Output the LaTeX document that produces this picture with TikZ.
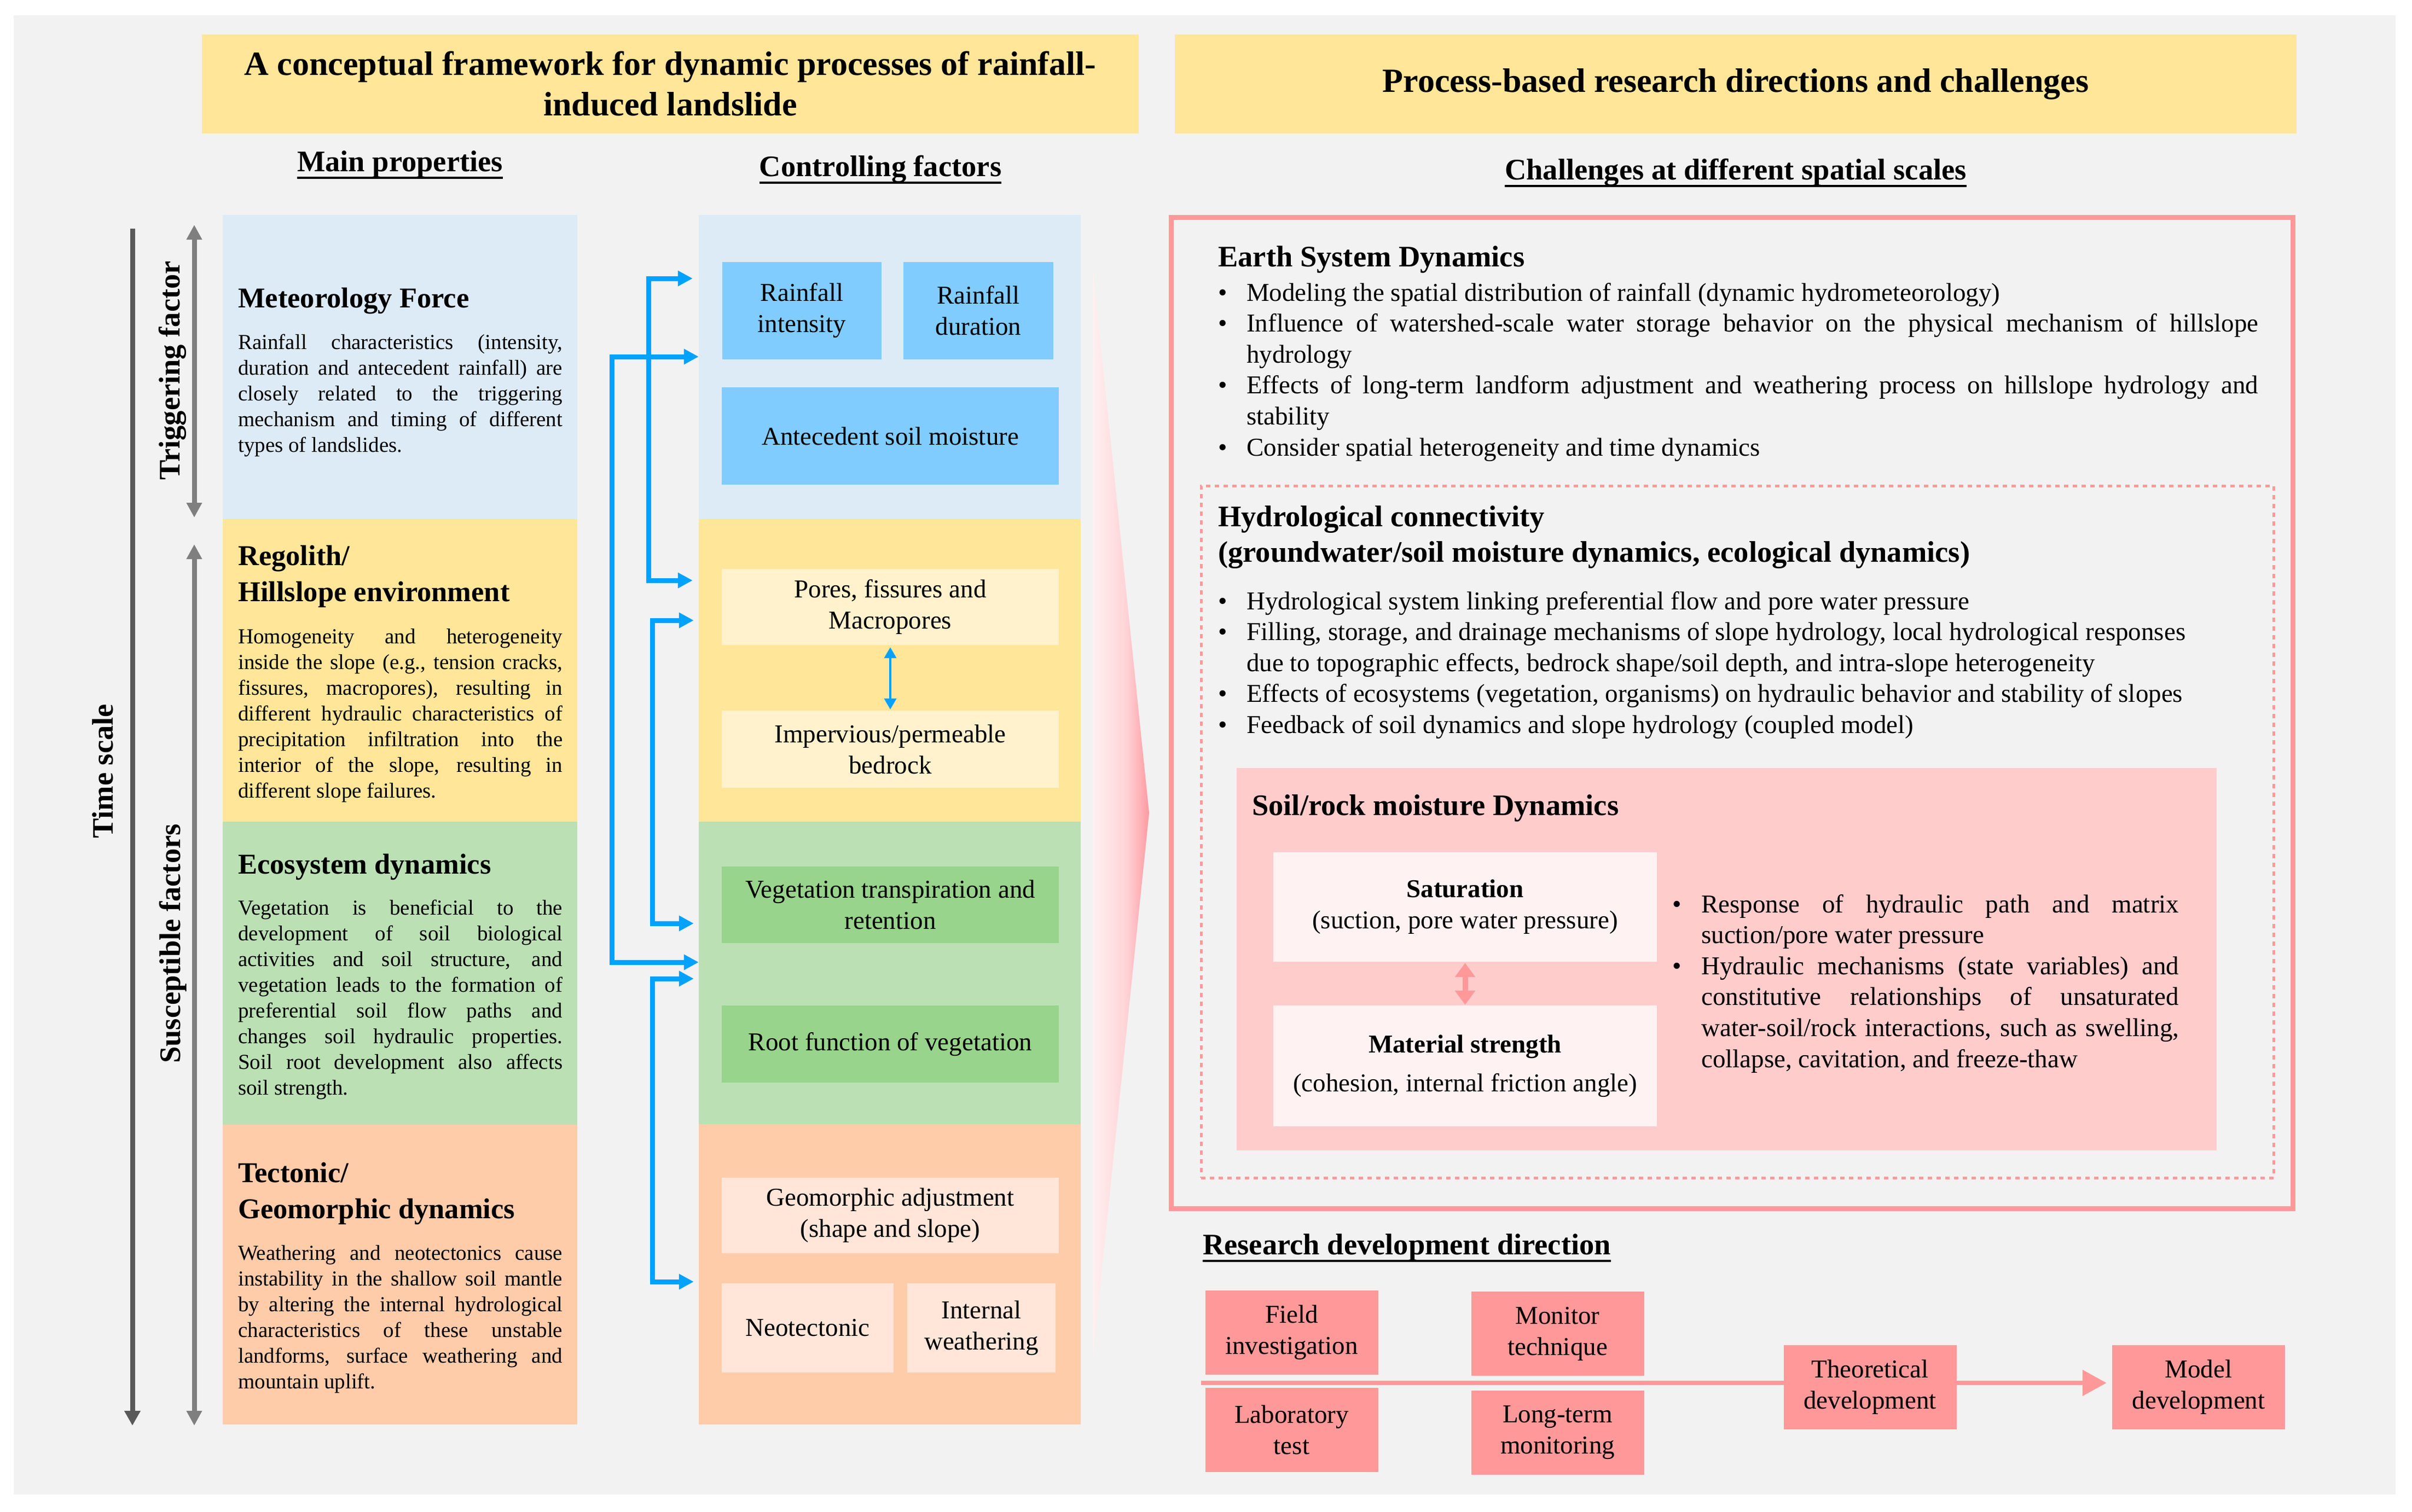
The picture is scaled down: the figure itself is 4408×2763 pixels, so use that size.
\documentclass[tikz,border=0pt]{standalone}
\usepackage{fontspec}
\setmainfont{Liberation Serif}
\usetikzlibrary{arrows.meta}
\definecolor{bgray}{HTML}{F2F2F2}
\definecolor{ttl}{HTML}{FFE699}
\definecolor{lblue}{HTML}{DDEBF7}
\definecolor{mblue}{HTML}{80CCFF}
\definecolor{lyel}{HTML}{FFE699}
\definecolor{pyel}{HTML}{FFF2CC}
\definecolor{lgreen}{HTML}{BBE0B4}
\definecolor{mgreen}{HTML}{98D48B}
\definecolor{lorange}{HTML}{FFCCAA}
\definecolor{porange}{HTML}{FFE6D8}
\definecolor{pinkl}{HTML}{FF9999}
\definecolor{soilc}{HTML}{FFCCCC}
\definecolor{satc}{HTML}{FFF2F2}
\definecolor{arrblue}{HTML}{00A2FF}
\definecolor{tsgray}{HTML}{595959}
\definecolor{trgray}{HTML}{7F7F7F}
\definecolor{funL}{HTML}{FFF0F1}
\definecolor{funM}{HTML}{FFD3D6}
\definecolor{funR}{HTML}{FF9AA0}
\pgfdeclarehorizontalshading{funnelsh}{100bp}{color(0bp)=(funL); color(25bp)=(funL); color(55bp)=(funM); color(75bp)=(funR); color(100bp)=(funR)}
\newcommand{\fTitle}{\fontsize{62}{74}\selectfont\bfseries}
\newcommand{\fHead}{\fontsize{54.5}{65}\selectfont\bfseries}
\newcommand{\fLHead}{\fontsize{52.5}{66}\selectfont\bfseries}
\newcommand{\fLBody}{\fontsize{39}{47}\selectfont}
\newcommand{\fBox}{\fontsize{47}{57}\selectfont}
\newcommand{\fBul}{\fontsize{47}{56.6}\selectfont}
\newcommand{\bfirst}[1]{\hangindent=#1\hangafter=1 \makebox[#1][l]{\textbullet}\ignorespaces}
\newcommand{\bitem}[1]{\par\hangindent=#1\hangafter=1 \noindent\makebox[#1][l]{\textbullet}\ignorespaces}
\tikzset{
  panel/.style={rectangle, inner sep=0pt, draw=none},
  ibox/.style={rectangle, inner sep=0pt, align=center, font=\fBox},
  lhead/.style={anchor=base west, inner sep=0pt, text width=600pt, align=justify, font=\fLHead},
  lbody/.style={anchor=base west, inner sep=0pt, text width=593pt, align=justify, font=\fLBody},
  uhead/.style={inner sep=0pt, font=\fHead},
  sidelab/.style={rotate=90, anchor=base, inner sep=0pt, font=\fHead},
  barrow/.style={draw=arrblue, line width=9pt, line join=miter, arrows={Triangle[length=27pt,width=27pt]-Triangle[length=27pt,width=27pt]}},
  tsarrow/.style={draw=tsgray, line width=9pt, arrows={-Triangle[length=27pt,width=28pt]}},
  trarrow/.style={draw=trgray, line width=9pt, arrows={Triangle[length=27pt,width=27pt]-Triangle[length=27pt,width=27pt]}},
  uline/.style={line width=4pt, draw=black},
  rbox/.style={rectangle, inner sep=0pt, fill=pinkl, align=center, font=\fBox, minimum width=316pt, minimum height=154pt}
}
\begin{document}
\begin{tikzpicture}[x=1pt,y=-1pt]
\useasboundingbox (0,0) rectangle (4408,2763);
\fill[white] (0,0) rectangle (4408,2763);
\fill[bgray] (25,28) rectangle (4378,2732);

% titles
\node[panel, fill=ttl, minimum width=1712pt, minimum height=181pt, align=center, font=\fTitle] (t1) at (1225,153.5) {A conceptual framework for dynamic processes of rainfall-\\induced landslide};
\node[panel, fill=ttl, minimum width=2050pt, minimum height=181pt, align=center, font=\fTitle] (t2) at (3172,153.5) {Process-based research directions and challenges};

% column headings
\node[uhead, anchor=base] (mp) at (731,313) {Main properties};
\draw[uline] ([yshift=-12pt]mp.base west) -- ([yshift=-12pt]mp.base east);
\node[uhead, anchor=base] (cf) at (1609,322) {Controlling factors};
\draw[uline] ([yshift=-12pt]cf.base west) -- ([yshift=-12pt]cf.base east);
\node[uhead, anchor=base] (cs) at (3172,328) {Challenges at different spatial scales};
\draw[uline] ([yshift=-12pt]cs.base west) -- ([yshift=-12pt]cs.base east);

% left panels
\node[panel, fill=lblue, minimum width=648pt, minimum height=556pt] (L1) at (731,671) {};
\node[panel, fill=lyel, minimum width=648pt, minimum height=553pt] (L2) at (731,1225.5) {};
\node[panel, fill=lgreen, minimum width=648pt, minimum height=554pt] (L3) at (731,1779) {};
\node[panel, fill=lorange, minimum width=648pt, minimum height=548pt] (L4) at (731,2330) {};

% middle panels
\node[panel, fill=lblue, minimum width=698pt, minimum height=556pt] (M1) at (1626,671) {};
\node[panel, fill=lyel, minimum width=698pt, minimum height=553pt] (M2) at (1626,1225.5) {};
\node[panel, fill=lgreen, minimum width=698pt, minimum height=553pt] (M3) at (1626,1778.5) {};
\node[panel, fill=lorange, minimum width=698pt, minimum height=549pt] (M4) at (1626,2329.5) {};

% left texts
\node[lhead] (h1) at (435,562) {\fLHead Meteorology Force\par};
\node[lbody] (b1) at (435,638) {\fLBody Rainfall characteristics (intensity,\linebreak duration and antecedent rainfall) are\linebreak closely related to the triggering\linebreak mechanism and timing of different\linebreak types of landslides.\par};
\node[lhead] (h2) at (435,1033) {\fLHead Regolith/\par Hillslope environment\par};
\node[lbody] (b2) at (435,1176) {\fLBody Homogeneity and heterogeneity\linebreak inside the slope (e.g., tension cracks,\linebreak fissures, macropores), resulting in\linebreak different hydraulic characteristics of\linebreak precipitation infiltration into the\linebreak interior of the slope, resulting in\linebreak different slope failures.\par};
\node[lhead] (h3) at (435,1597) {\fLHead Ecosystem dynamics\par};
\node[lbody] (b3) at (435,1672) {\fLBody Vegetation is beneficial to the\linebreak development of soil biological\linebreak activities and soil structure, and\linebreak vegetation leads to the formation of\linebreak preferential soil flow paths and\linebreak changes soil hydraulic properties.\linebreak Soil root development also affects\linebreak soil strength.\par};
\node[lhead] (h4) at (435,2161) {\fLHead Tectonic/\par Geomorphic dynamics\par};
\node[lbody] (b4) at (435,2303) {\fLBody Weathering and neotectonics cause\linebreak instability in the shallow soil mantle\linebreak by altering the internal hydrological\linebreak characteristics of these unstable\linebreak landforms, surface weathering and\linebreak mountain uplift.\par};

% side arrows and labels
\coordinate (ts1) at (242,418);
\coordinate (ts2) at (242,2606);
\draw[tsarrow] (ts1) -- (ts2);
\coordinate (tr1) at (355,411);
\coordinate (tr2) at (355,946);
\draw[trarrow] (tr1) -- (tr2);
\coordinate (su1) at (355,995);
\coordinate (su2) at (355,2606);
\draw[trarrow] (su1) -- (su2);
\node[sidelab] (tsl) at (206,1410) {Time scale};
\node[sidelab] (trl) at (328,677) {Triggering factor};
\node[sidelab] (sul) at (329,1725) {Susceptible factors};

% middle inner boxes
\node[ibox, fill=mblue, minimum width=291pt, minimum height=178pt] (ri) at (1465.5,568) {Rainfall\\intensity};
\node[ibox, fill=mblue, minimum width=274pt, minimum height=178pt] (rd) at (1788,568) {Rainfall\\duration};
\node[ibox, fill=mblue, minimum width=616pt, minimum height=178pt] (asm) at (1627,797) {Antecedent soil moisture};
\node[ibox, fill=pyel, minimum width=616pt, minimum height=139pt] (pores) at (1627,1109.5) {Pores, fissures and\\Macropores};
\node[ibox, fill=pyel, minimum width=616pt, minimum height=141pt] (imp) at (1627,1369.5) {Impervious/permeable\\bedrock};
\node[ibox, fill=mgreen, minimum width=616pt, minimum height=140pt] (veg) at (1627,1654) {Vegetation transpiration and\\retention};
\node[ibox, fill=mgreen, minimum width=616pt, minimum height=141pt] (root) at (1627,1908.5) {Root function of vegetation};
\node[ibox, fill=porange, minimum width=616pt, minimum height=138pt] (geo) at (1627,2222) {Geomorphic adjustment\\(shape and slope)};
\node[ibox, fill=porange, minimum width=314pt, minimum height=163pt] (neo) at (1476,2427.5) {Neotectonic};
\node[ibox, fill=porange, minimum width=271pt, minimum height=163pt] (iw) at (1793.5,2427.5) {Internal\\weathering};
\draw[draw=arrblue, line width=4pt, arrows={Triangle[length=20pt,width=22pt]-Triangle[length=20pt,width=22pt]}, shorten <=4pt, shorten >=2pt] (pores.south) -- (imp.north);

% blue connectors
\coordinate (A1) at (1185,509);
\coordinate (A2) at (1185,1061);
\coordinate (B1) at (1118,652);
\coordinate (B2) at (1118,1759);
\coordinate (C1) at (1192,1134);
\coordinate (C2) at (1192,1688);
\coordinate (D1) at (1192,1789);
\coordinate (D2) at (1192,2343);
\draw[barrow, shorten <=11pt, shorten >=11pt] (A1 -| M1.west) -- (A1) -- (A2) -- (A2 -| M2.west);
\draw[barrow, shorten <=9pt, shorten >=9pt] (C1 -| M2.west) -- (C1) -- (C2) -- (C2 -| M3.west);
\draw[barrow, shorten <=9pt, shorten >=9pt] (D1 -| M3.west) -- (D1) -- (D2) -- (D2 -| M4.west);
\draw[barrow] (B1 -| M1.west) -- (B1) -- (B2) -- (B2 -| M3.west);

% funnel
\coordinate (f1) at (1997,489);
\coordinate (f2) at (2100,1486);
\coordinate (f3) at (1997,2483);
\shade[shading=funnelsh] (f1) -- (f2) -- (f3) -- cycle;

% right framework
\node[rectangle, draw=pinkl, line width=9pt, inner sep=0pt, minimum width=2050pt, minimum height=1812pt] (outer) at (3165,1303) {};
\node[rectangle, draw=pinkl, line width=5pt, dash pattern=on 8pt off 8pt, inner sep=0pt, minimum width=1960pt, minimum height=1265pt] (hcbox) at (3175,1520.5) {};

\node[anchor=base west, inner sep=0pt, font=\fHead] (esd) at (2226,487) {Earth System Dynamics};
\node[anchor=base west, inner sep=0pt, text width=1901pt, align=justify, font=\fBul] (esdl) at (2226,550) {\fBul\bfirst{52pt}Modeling the spatial distribution of rainfall (dynamic hydrometeorology)\bitem{52pt}Influence of watershed-scale water storage behavior on the physical mechanism of hillslope\linebreak hydrology\bitem{52pt}Effects of long-term landform adjustment and weathering process on hillslope hydrology and\linebreak stability\bitem{52pt}Consider spatial heterogeneity and time dynamics\par};

\node[anchor=base west, inner sep=0pt, text width=1901pt, align=justify, font=\fHead] (hc) at (2226,962) {\fHead Hydrological connectivity\par (groundwater/soil moisture dynamics, ecological dynamics)\par};
\node[anchor=base west, inner sep=0pt, text width=1901pt, align=justify, font=\fBul] (hcl) at (2226,1114) {\fBul\raggedright\bfirst{52pt}Hydrological system linking preferential flow and pore water pressure\bitem{52pt}Filling, storage, and drainage mechanisms of slope hydrology, local hydrological responses\linebreak due to topographic effects, bedrock shape/soil depth, and intra-slope heterogeneity\bitem{52pt}Effects of ecosystems (vegetation, organisms) on hydraulic behavior and stability of slopes\bitem{52pt}Feedback of soil dynamics and slope hydrology (coupled model)\par};

\node[panel, fill=soilc, minimum width=1791pt, minimum height=699pt] (soil) at (3155.5,1753.5) {};
\node[anchor=base west, inner sep=0pt, font=\fHead] (soilt) at (2288,1490) {Soil/rock moisture Dynamics};
\node[panel, fill=satc, minimum width=701pt, minimum height=200pt, align=center, font=\fBox] (sat) at (2677.5,1658) {\textbf{Saturation}\\(suction, pore water pressure)};
\node[panel, fill=satc, minimum width=701pt, minimum height=221pt, align=center, font=\fBox] (mat) at (2677.5,1948.5) {\textbf{Material strength}\\[14pt](cohesion, internal friction angle)};
\draw[draw=pinkl, line width=10pt, arrows={Triangle[length=26pt,width=36pt]-Triangle[length=26pt,width=36pt]}, shorten <=2pt, shorten >=1pt] (sat.south) -- (mat.north);
\node[anchor=base west, inner sep=0pt, text width=926pt, align=justify, font=\fBul] (soill) at (3056,1668) {\fBul\bfirst{53pt}Response of hydraulic path and matrix\linebreak suction/pore water pressure\bitem{53pt}Hydraulic mechanisms (state variables) and\linebreak constitutive relationships of unsaturated\linebreak water-soil/rock interactions, such as swelling,\linebreak collapse, cavitation, and freeze-thaw\par};

% research development direction
\node[uhead, anchor=base west] (rdd) at (2198,2293) {Research development direction};
\draw[uline] ([yshift=-12pt]rdd.base west) -- ([yshift=-12pt]rdd.base east);
\coordinate (rs) at (2195,2528);
\node[rbox] (model) at (4018,2536) {Model\\development};
\draw[draw=pinkl, line width=8pt, arrows={-Triangle[length=44pt,width=46pt]}, shorten >=10pt] (rs) -- (rs -| model.west);
\node[rbox] (field) at (2360.5,2436) {Field\\investigation};
\node[rbox] (monitor) at (2846.5,2438) {Monitor\\technique};
\node[rbox] (lab) at (2360.5,2614) {Laboratory\\test};
\node[rbox] (longt) at (2846.5,2618.5) {Long-term\\monitoring};
\node[rbox] (theo) at (3417.5,2536) {Theoretical\\development};
\end{tikzpicture}
\end{document}
